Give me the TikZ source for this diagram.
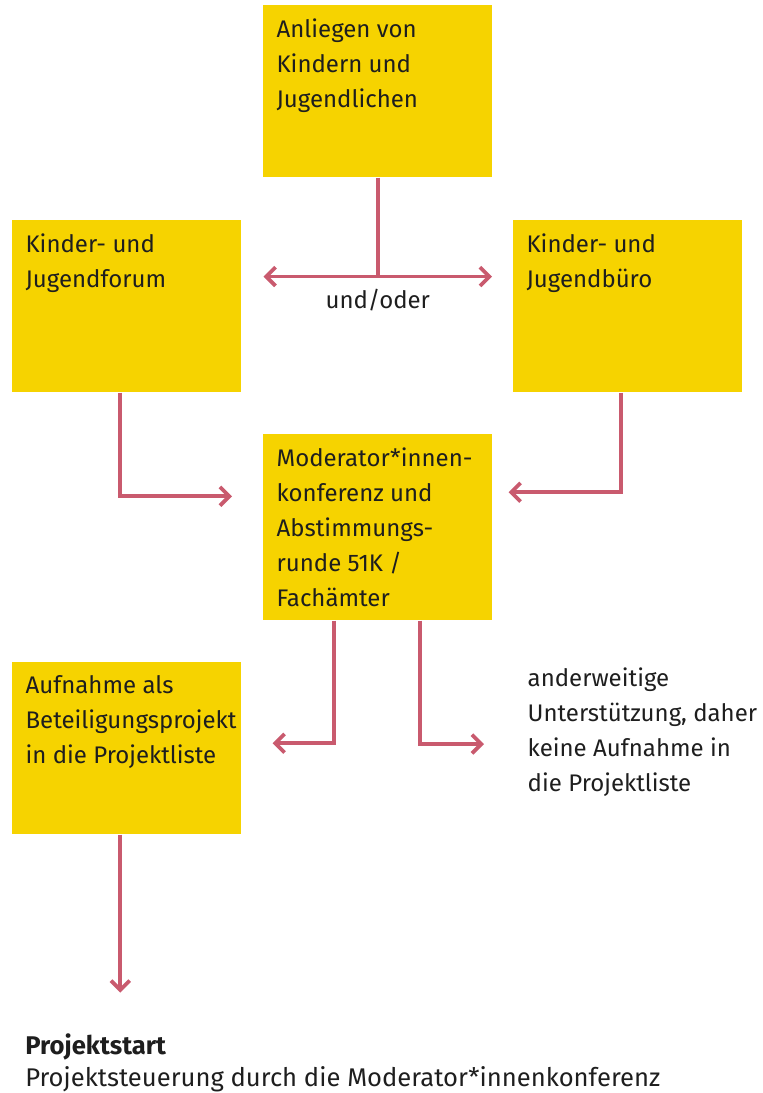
\documentclass[tikz,border=0pt]{standalone}
\usepackage{fontspec}
\setmainfont{Fira Sans}
\usetikzlibrary{arrows.meta,calc,positioning}

\definecolor{boxyellow}{RGB}{246,211,0}
\definecolor{linkred}{RGB}{201,90,110}
\definecolor{textgray}{RGB}{30,30,30}

\tikzset{
  box/.style={fill=boxyellow, anchor=north west, inner xsep=10pt, inner ysep=10pt,
    execute at begin node={\begin{minipage}[t][#1][t]{151.75pt}\raggedright},
    execute at end node={\end{minipage}}},
  box/.default=109pt,
  link/.style={draw=linkred, line width=2.8pt},
}

\begin{document}
\begin{tikzpicture}[x=0.75pt, y=-0.75pt, text=textgray,
    font=\fontsize{18pt}{26.25pt}\selectfont,
    >={Straight Barb[length=7pt,width=14pt]}]
  \useasboundingbox (0,0) rectangle (763,1093);

  % boxes
  \node[box] (wish) at (263,5) {Anliegen von\\Kindern und\\Jugendlichen};
  \node[box] (forum) at (12,220) {Kinder- und\\Jugendforum};
  \node[box] (office) at (513,220) {Kinder- und\\Jugendbüro};
  \node[box=119.5pt] (conf) at (263,434) {Moderator*innen-\\konferenz und\\Abstimmungs-\\runde 51K /\\Fachämter};
  \node[box] (list) at (12,662) {Aufnahme als\\Beteiligungsprojekt\\in die Projektliste};

  % free texts
  \node[anchor=west, align=left] (other) at (523,732) {anderweitige\\Unterstützung, daher\\keine Aufnahme in\\die Projektliste};
  \node[anchor=north west, align=left, inner sep=0pt, font=\fontsize{19.2pt}{24.5pt}\selectfont] (start) at (25,1033)
    {\textbf{Projektstart}\\Projektsteuerung durch die Moderator*innenkonferenz};

  % connectors
  \draw[link] (wish.south) -- ++(0,99) coordinate (split);
  \draw[link,<->] ($(split -| forum.east)+(22,0)$) -- ($(split -| office.west)+(-21,0)$);
  \node[below=6pt of split] (andor) {und/oder};
  \draw[link,->] ($(forum.south)+(-6.5,0)$) |- ($(conf.west)+(-31,-31)$);
  \draw[link,->] ($(office.south)+(-6.5,0)$) |- ($(conf.east)+(16,-35)$);
  \draw[link,->] ($(conf.south)+(-43.5,0)$) |- ($(list.east)+(31,-5)$);
  \draw[link,->] ($(conf.south)+(42.5,0)$) |- ($(other.west)+(-39,12)$);
  \draw[link,->] ($(list.south)+(-6.5,0)$) -- ++(0,158);
\end{tikzpicture}
\end{document}
